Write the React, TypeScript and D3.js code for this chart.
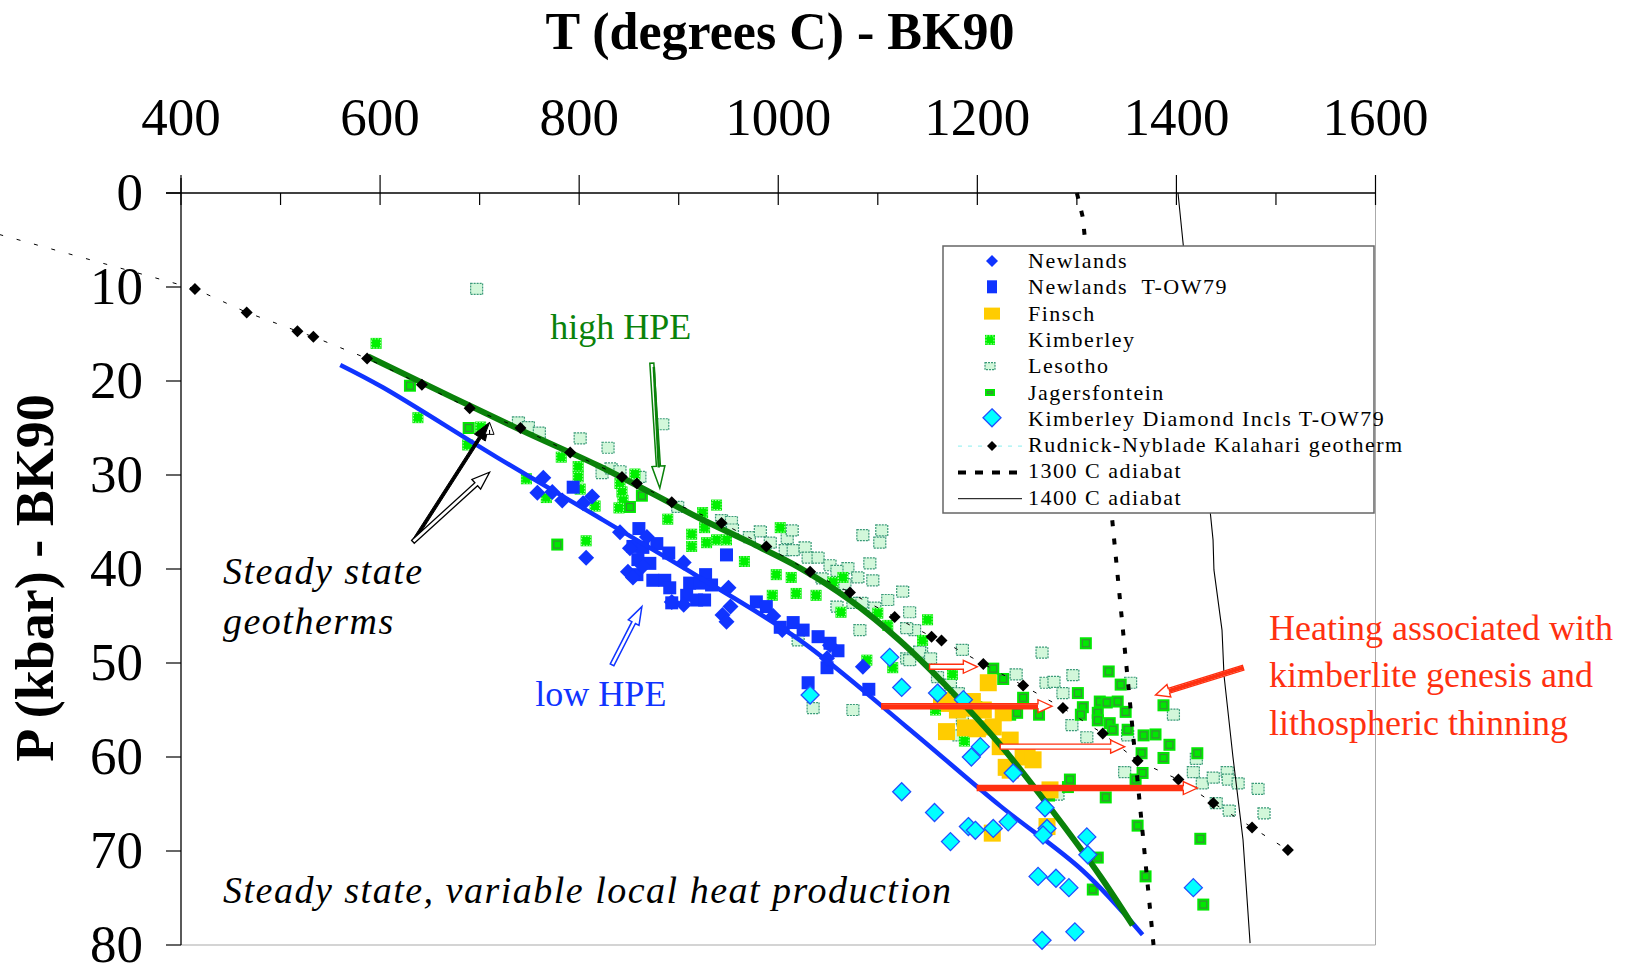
import React from "react";
import * as d3 from "d3";

type Pt = [number, number];

// ---- axis ticks ----
const xTicks = [400, 600, 800, 1000, 1200, 1400, 1600];
const xMinorTicks = [500, 700, 900, 1100, 1300, 1500];
const yTicks = [0, 10, 20, 30, 40, 50, 60, 70, 80];

// ---- data: [T (C), P (kbar)] ----
const newlands: Pt[] = [
  [764, 30.3], [758, 31.9], [773, 31.8], [783, 32.7], [804, 33.0], [813, 32.3],
  [841, 36.1], [807, 38.8], [868, 36.6], [849, 40.3], [854, 40.9], [905, 39.3],
  [893, 43.5], [905, 43.8], [950, 42.0], [952, 44.0], [944, 44.9], [948, 45.6],
  [995, 45.0], [1004, 46.5], [1049, 49.5], [1052, 48.1], [1085, 50.4], [851, 37.8],
  [864, 39.7],
];

const newlandsTOW: Pt[] = [
  [794, 31.3], [860, 35.7], [854, 37.6], [864, 37.7], [878, 37.3], [890, 38.3],
  [859, 39.0], [871, 39.4], [858, 40.6], [874, 41.2], [886, 41.2], [891, 42.0],
  [893, 43.6], [911, 41.5], [921, 41.5], [927, 40.6], [933, 41.7], [908, 42.8],
  [918, 43.3], [926, 43.3], [948, 38.5], [978, 43.5], [988, 44.0], [1002, 46.2],
  [1015, 45.7], [1025, 46.5], [1040, 47.2], [1052, 47.9], [1060, 48.7], [1049, 50.5],
  [1030, 52.1], [1091, 52.8],
];

const finsch: Pt[] = [
  [1211, 52.1], [1172, 54.3], [1195, 54.1], [1206, 55.0], [1226, 55.3], [1169, 57.3],
  [1188, 56.9], [1216, 56.8], [1233, 58.2], [1223, 58.9], [1250, 59.6], [1246, 60.0],
  [1233, 61.4], [1229, 61.1], [1273, 63.5], [1270, 67.4], [1215, 68.1], [1190, 54.8],
  [1200, 57.0], [1180, 55.0], [1256, 60.3], [1164, 54.0],
];

const kimberley: Pt[] = [
  [596, 16.0], [638, 23.9], [688, 26.8], [701, 24.9], [782, 28.1], [799, 29.1],
  [799, 30.2], [801, 31.5], [747, 30.4], [767, 32.4], [816, 33.3], [807, 37.0],
  [841, 30.9], [843, 31.8], [844, 32.7], [840, 33.5], [856, 29.9], [889, 34.7],
  [924, 34.0], [938, 33.2], [926, 35.6], [913, 36.3], [913, 37.6], [928, 37.2],
  [938, 36.9], [948, 36.9], [966, 39.2], [1002, 35.6], [998, 40.6], [994, 42.8],
  [1018, 42.6], [1013, 40.9], [1038, 42.8], [1055, 41.4], [1065, 40.9], [1063, 44.6],
  [1100, 44.7], [1110, 46.0], [1145, 47.6], [1150, 45.4], [1089, 49.7], [1115, 50.5],
  [1175, 51.2], [1158, 55.0], [1187, 58.3],
];

const lesotho: Pt[] = [
  [697, 10.2], [739, 24.4], [749, 24.9], [760, 25.5], [801, 26.1], [829, 27.1],
  [823, 29.8], [832, 29.3], [841, 29.6], [861, 30.2], [884, 24.6], [899, 33.4],
  [943, 34.8], [953, 35.0], [954, 35.8], [971, 36.6], [982, 36.0], [992, 37.2],
  [1009, 36.7], [1014, 35.9], [1007, 38.0], [1015, 38.0], [1027, 37.7], [1030, 38.8],
  [1040, 38.8], [1052, 39.6], [1070, 39.9], [1080, 40.9], [1095, 41.2], [1085, 36.4],
  [1104, 35.9], [1102, 37.2], [1092, 39.4], [1125, 42.4], [1044, 41.0], [1059, 40.2],
  [1067, 41.6], [1059, 44.0], [1075, 43.6], [1084, 43.6], [1082, 46.5], [1097, 44.1],
  [1110, 43.3], [1132, 44.6], [1137, 46.5], [1129, 46.3], [1144, 48.9], [1129, 49.5],
  [1020, 47.6], [1035, 54.8], [1075, 55.0], [1132, 49.7], [1142, 48.8], [1153, 49.5],
  [1160, 51.5], [1173, 52.3], [1181, 53.2], [1185, 56.1], [1181, 57.7], [1199, 56.8],
  [1207, 56.9], [1185, 48.6], [1265, 48.9], [1239, 51.2], [1269, 52.1], [1277, 52.0],
  [1296, 51.3], [1286, 53.2], [1295, 56.6], [1310, 57.9], [1354, 52.1], [1351, 57.7],
  [1397, 55.5], [1348, 61.6], [1417, 61.6], [1420, 60.2], [1426, 62.8], [1437, 62.2],
  [1451, 61.6], [1452, 62.4], [1462, 62.8], [1482, 63.4], [1488, 66.0], [1440, 64.9],
  [1453, 65.7], [1281, 64.0],
];

const jagersfontein: Pt[] = [
  [630, 20.5], [689, 25.0], [778, 37.4], [851, 33.4], [863, 32.2], [1216, 50.6],
  [1226, 51.7], [1199, 54.7], [1233, 55.5], [1240, 55.3], [1246, 53.7], [1262, 55.5],
  [1301, 53.2], [1306, 54.7], [1304, 55.5], [1321, 55.3], [1309, 47.9], [1332, 50.9],
  [1323, 54.1], [1330, 54.2], [1341, 54.1], [1349, 55.2], [1344, 52.3], [1321, 56.1],
  [1333, 56.4], [1336, 57.1], [1351, 57.1], [1367, 57.7], [1379, 57.6], [1387, 54.5],
  [1393, 58.7], [1387, 60.1], [1421, 59.6], [1365, 59.6], [1359, 62.4], [1366, 61.7],
  [1329, 64.3], [1361, 67.3], [1369, 72.7], [1424, 68.7], [1427, 75.7], [1272, 64.1],
  [1291, 63.2], [1293, 62.4], [1321, 70.7], [1316, 74.1],
];

const diamondIncls: Pt[] = [
  [1032, 53.4], [1112, 49.4], [1124, 52.6], [1160, 53.2], [1186, 53.9], [1203, 58.9],
  [1194, 60.0], [1236, 61.7], [1124, 63.7], [1157, 65.9], [1173, 69.0], [1191, 67.4],
  [1198, 67.8], [1216, 67.6], [1231, 66.9], [1268, 65.4], [1270, 67.6], [1266, 68.3],
  [1310, 68.5], [1311, 70.4], [1261, 72.7], [1279, 72.9], [1292, 73.9], [1298, 78.6],
  [1265, 79.5], [1417, 73.9],
];

const rudnickLine: Pt[] = [
  [200, 3.9], [414, 10.2], [466, 12.7], [517, 14.7], [533, 15.3], [587, 17.6],
  [642, 20.4], [690, 22.9], [741, 25.0], [791, 27.6], [843, 30.2], [858, 30.9],
  [893, 32.9], [943, 35.1], [988, 37.6], [1032, 40.3], [1072, 42.5], [1117, 45.1],
  [1154, 47.2], [1164, 47.6], [1206, 50.1], [1246, 52.4], [1286, 54.8], [1326, 57.5],
  [1361, 60.4], [1402, 62.4], [1437, 64.9], [1476, 67.5], [1512, 69.9],
];

const adiabat1300: Pt[] = [[1300, 0], [1306, 2.6], [1377, 80]];
const adiabat1400: Pt[] = [
  [1401.6, 0], [1436.8, 36.9], [1437.7, 40.1], [1445.8, 46.5], [1447.8, 51.3],
  [1456.8, 60.0], [1466.9, 68.8], [1474, 79.8],
];

const lowHPE: Pt[] = [
  [560, 18.3], [603, 20.7], [717, 28.1], [821, 34.6], [891, 39.0], [921, 40.9],
  [1022, 47.6], [1129, 56.8], [1223, 65.2], [1306, 72.1], [1366, 78.9],
];
const highHPE: Pt[] = [
  [588, 17.4], [741, 25.2], [821, 29.1], [921, 34.6], [972, 37.2], [1022, 39.9],
  [1072, 43.3], [1122, 47.6], [1173, 52.9], [1223, 58.7], [1273, 65.4], [1323, 72.6],
  [1356, 77.9],
];

const legendNames = [
  "Newlands",
  "Newlands  T-OW79",
  "Finsch",
  "Kimberley",
  "Lesotho",
  "Jagersfontein",
  "Kimberley Diamond Incls T-OW79",
  "Rudnick-Nyblade Kalahari geotherm",
  "1300 C adiabat",
  "1400 C adiabat",
];

// annotation arrows in data coordinates [T1, P1, T2, P2]
const redArrows = [
  { a: [1152, 50.4, 1200, 50.4], solid: false },
  { a: [1104, 54.6, 1275, 54.6], solid: true },
  { a: [1223, 58.9, 1348, 58.9], solid: false },
  { a: [1200, 63.3, 1421, 63.3], solid: true },
  { a: [1467, 50.5, 1379, 53.4], solid: true },
];

const W = 1626;
const H = 965;
const x = d3.scaleLinear().domain([400, 1600]).range([181, 1375.5]);
const y = d3.scaleLinear().domain([0, 80]).range([193, 945]);

const serif = "'Liberation Serif', 'Times New Roman', Times, serif";
const BLUE = "#1034ff";
const GREEN = "#0a820a";
const RED = "#ff3010";

function arrowPoly(x1: number, y1: number, x2: number, y2: number, sw: number, hw: number, hl: number) {
  const dx = x2 - x1, dy = y2 - y1;
  const len = Math.hypot(dx, dy);
  const ux = dx / len, uy = dy / len, nx = -uy, ny = ux;
  const bx = x2 - ux * hl, by = y2 - uy * hl;
  const pts = [
    [x1 + (nx * sw) / 2, y1 + (ny * sw) / 2],
    [bx + (nx * sw) / 2, by + (ny * sw) / 2],
    [bx + (nx * hw) / 2, by + (ny * hw) / 2],
    [x2, y2],
    [bx - (nx * hw) / 2, by - (ny * hw) / 2],
    [bx - (nx * sw) / 2, by - (ny * sw) / 2],
    [x1 - (nx * sw) / 2, y1 - (ny * sw) / 2],
  ];
  return pts.map((p) => p.join(",")).join(" ");
}

const Diamond = ({ cx, cy, r, fill, stroke, sw }: any) => (
  <polygon
    points={`${cx},${cy - r} ${cx + r},${cy} ${cx},${cy + r} ${cx - r},${cy}`}
    fill={fill}
    stroke={stroke || "none"}
    strokeWidth={sw || 0}
  />
);

const KimberleyMark = ({ cx, cy, s = 11 }: any) => (
  <g>
    <rect x={cx - s / 2} y={cy - s / 2} width={s} height={s} fill="#00f000" />
    <rect x={cx - s / 2 + 1} y={cy - s / 2 + 1} width={s - 2} height={s - 2} fill="none"
      stroke="#b0ffb0" strokeWidth={1} strokeDasharray="1.5 1.5" />
  </g>
);

const LesothoMark = ({ cx, cy, w = 12, h = 11 }: any) => (
  <rect x={cx - w / 2} y={cy - h / 2} width={w} height={h} fill="#d2f7da"
    stroke="#3a9a78" strokeWidth={1.2} strokeDasharray="2 1" />
);

const JagerMark = ({ cx, cy, w = 12, h = 12 }: any) => (
  <g>
    <rect x={cx - w / 2} y={cy - h / 2} width={w} height={h} fill="#00e800" />
    <rect x={cx - w / 2 + 2.5} y={cy - h / 2 + 2.5} width={w - 5} height={h - 5} fill="none"
      stroke="#3a8e3a" strokeWidth={1.2} />
  </g>
);

export default function App() {
  const curve = d3.line<Pt>().x((d) => x(d[0])).y((d) => y(d[1])).curve(d3.curveCatmullRom);
  const straight = d3.line<Pt>().x((d) => x(d[0])).y((d) => y(d[1]));

  const legX = 943, legY = 246, legW = 431, legH = 267;
  const rowY = (i: number) => 268 + i * 26.3;

  return (
    <svg width={W} height={H} style={{ position: "absolute", left: 0, top: 0, background: "#fff", fontFamily: serif }}>
      <rect width={W} height={H} fill="#fff" />

      {/* frame */}
      <line x1={x(1600)} y1={y(0)} x2={x(1600)} y2={y(80)} stroke="#aaa" strokeWidth={1} />
      <line x1={x(400)} y1={y(80)} x2={x(1600)} y2={y(80)} stroke="#aaa" strokeWidth={1.2} />

      {/* points */}
      {lesotho.map((d, i) => <LesothoMark key={"l" + i} cx={x(d[0])} cy={y(d[1])} />)}
      {kimberley.map((d, i) => <KimberleyMark key={"k" + i} cx={x(d[0])} cy={y(d[1])} />)}
      {jagersfontein.map((d, i) => <JagerMark key={"j" + i} cx={x(d[0])} cy={y(d[1])} />)}
      {finsch.map((d, i) => (
        <rect key={"f" + i} x={x(d[0]) - 8.5} y={y(d[1]) - 8.5} width={17} height={17} fill="#ffcc00" />
      ))}
      {newlandsTOW.map((d, i) => (
        <rect key={"nt" + i} x={x(d[0]) - 6.5} y={y(d[1]) - 6.5} width={13} height={13} fill={BLUE} />
      ))}
      {newlands.map((d, i) => <Diamond key={"n" + i} cx={x(d[0])} cy={y(d[1])} r={8} fill={BLUE} />)}

      {/* steady state geotherms */}
      <path d={curve(lowHPE) || ""} fill="none" stroke={BLUE} strokeWidth={4.5} />
      <path d={curve(highHPE) || ""} fill="none" stroke={GREEN} strokeWidth={6} />

      {diamondIncls.map((d, i) => (
        <Diamond key={"c" + i} cx={x(d[0])} cy={y(d[1])} r={9} fill="#00ffff" stroke="#2050ff" sw={1.3} />
      ))}

      {/* Rudnick-Nyblade geotherm */}
      <path d={straight(rudnickLine) || ""} fill="none" stroke="#000" strokeWidth={1} strokeDasharray="4 14" />
      {rudnickLine.slice(1).map((d, i) => (
        <Diamond key={"r" + i} cx={x(d[0])} cy={y(d[1])} r={6} fill="#000" />
      ))}

      {/* adiabats */}
      <path d={straight(adiabat1300) || ""} fill="none" stroke="#000" strokeWidth={4} strokeDasharray="6 12.3" />
      <path d={straight(adiabat1400) || ""} fill="none" stroke="#000" strokeWidth={1.1} />

      {/* axes */}
      <line x1={166} y1={y(0)} x2={x(1600)} y2={y(0)} stroke="#000" strokeWidth={1.3} />
      <line x1={x(400)} y1={178} x2={x(400)} y2={y(80)} stroke="#000" strokeWidth={1.3} />
      {xTicks.map((t) => (
        <line key={"xt" + t} x1={x(t)} x2={x(t)} y1={175} y2={205} stroke="#000" strokeWidth={1.2} />
      ))}
      {xMinorTicks.map((t) => (
        <line key={"xm" + t} x1={x(t)} x2={x(t)} y1={y(0)} y2={205} stroke="#000" strokeWidth={1.2} />
      ))}
      {yTicks.map((t) => (
        <line key={"yt" + t} x1={166} x2={x(400)} y1={y(t)} y2={y(t)} stroke="#000" strokeWidth={1.2} />
      ))}
      {xTicks.map((t) => (
        <text key={"xl" + t} x={x(t)} y={135} fontSize={53} textAnchor="middle">{t}</text>
      ))}
      {yTicks.map((t) => (
        <text key={"yl" + t} x={143} y={y(t)} dy="0.33em" fontSize={53} textAnchor="end">{t}</text>
      ))}
      <text x={780} y={49} fontSize={52} fontWeight="bold" textAnchor="middle">T (degrees C) - BK90</text>
      <text transform="translate(53,578) rotate(-90)" fontSize={54} fontWeight="bold" textAnchor="middle">
        P (kbar) - BK90
      </text>

      {/* legend */}
      <rect x={legX} y={legY} width={legW} height={legH} fill="#fff" stroke="#666" strokeWidth={1.5} />
      <Diamond cx={992} cy={rowY(0) - 7} r={6} fill={BLUE} />
      <rect x={987} y={rowY(1) - 14} width={10} height={13} fill={BLUE} />
      <rect x={984} y={rowY(2) - 13} width={16} height={12} fill="#ffcc00" />
      <KimberleyMark cx={990} cy={rowY(3) - 7} s={10} />
      <LesothoMark cx={990} cy={rowY(4) - 7} w={10} h={7} />
      <JagerMark cx={990} cy={rowY(5) - 7} w={10} h={7} />
      <Diamond cx={992} cy={rowY(6) - 8} r={9} fill="#00ffff" stroke="#2050ff" sw={1.3} />
      <line x1={958} x2={1022} y1={rowY(7) - 6} y2={rowY(7) - 6} stroke="#8ee" strokeWidth={1} strokeDasharray="4 6" />
      <Diamond cx={992} cy={rowY(7) - 6} r={5} fill="#000" />
      <line x1={958} x2={1022} y1={rowY(8) - 6} y2={rowY(8) - 6} stroke="#000" strokeWidth={4} strokeDasharray="8 9" />
      <line x1={958} x2={1022} y1={rowY(9) - 6} y2={rowY(9) - 6} stroke="#000" strokeWidth={1} />
      {legendNames.map((n, i) => (
        <text key={"lg" + i} x={1028} y={rowY(i)} fontSize={22} letterSpacing={1.5} style={{ whiteSpace: "pre" }}>
          {n}
        </text>
      ))}

      {/* annotations */}
      <text x={x(771)} y={y(15.5)} fontSize={36} fill={GREEN}>high HPE</text>
      <polygon points={arrowPoly(x(873), y(18.1), x(881), y(31.4), 4, 13, 22)} fill="#fff" stroke={GREEN} strokeWidth={1.5} />
      <line x1={x(875)} y1={y(18.5)} x2={x(880)} y2={y(29.2)} stroke={GREEN} strokeWidth={2.5} />

      <text x={x(756)} y={y(54.6)} fontSize={36} fill={BLUE}>low HPE</text>
      <polygon points={arrowPoly(x(833), y(50.2), x(863), y(44.0), 4, 12, 18)} fill="#fff" stroke={BLUE} strokeWidth={1.5} />

      <polygon points={arrowPoly(x(633), y(37.1), x(710), y(24.4), 3, 13, 18)} fill="#000" stroke="#000" strokeWidth={1} />
      <polygon points={arrowPoly(x(713) - 3, y(25.0) + 2, x(710), y(24.4), 0.1, 9, 12)} fill="#fff" stroke="#000" strokeWidth={1} />
      <polygon points={arrowPoly(x(633), y(37.1), x(710), y(29.7), 4, 13, 18)} fill="#fff" stroke="#000" strokeWidth={1.3} />

      <text fontSize={38} fontStyle="italic" letterSpacing={1.5}>
        <tspan x={223} y={584}>Steady state</tspan>
        <tspan x={223} y={634}>geotherms</tspan>
      </text>
      <text x={223} y={903} fontSize={38} fontStyle="italic" letterSpacing={1.5}>
        Steady state, variable local heat production
      </text>

      {redArrows.map((r, i) => {
        const [t1, p1, t2, p2] = r.a;
        const X1 = x(t1), Y1 = y(p1), X2 = x(t2), Y2 = y(p2);
        const len = Math.hypot(X2 - X1, Y2 - Y1);
        const fx = X1 + ((X2 - X1) * (len - 14)) / len, fy = Y1 + ((Y2 - Y1) * (len - 14)) / len;
        return (
          <g key={"ra" + i}>
            <polygon points={arrowPoly(X1, Y1, X2, Y2, 5, 13, 14)} fill="#fff" stroke={RED} strokeWidth={1.4} />
            {r.solid && <line x1={X1} y1={Y1} x2={fx} y2={fy} stroke={RED} strokeWidth={4} />}
          </g>
        );
      })}
      <text fontSize={36} fill={RED}>
        <tspan x={1269} y={640}>Heating associated with</tspan>
        <tspan x={1269} y={687}>kimberlite genesis and</tspan>
        <tspan x={1269} y={735}>lithospheric thinning</tspan>
      </text>
    </svg>
  );
}
